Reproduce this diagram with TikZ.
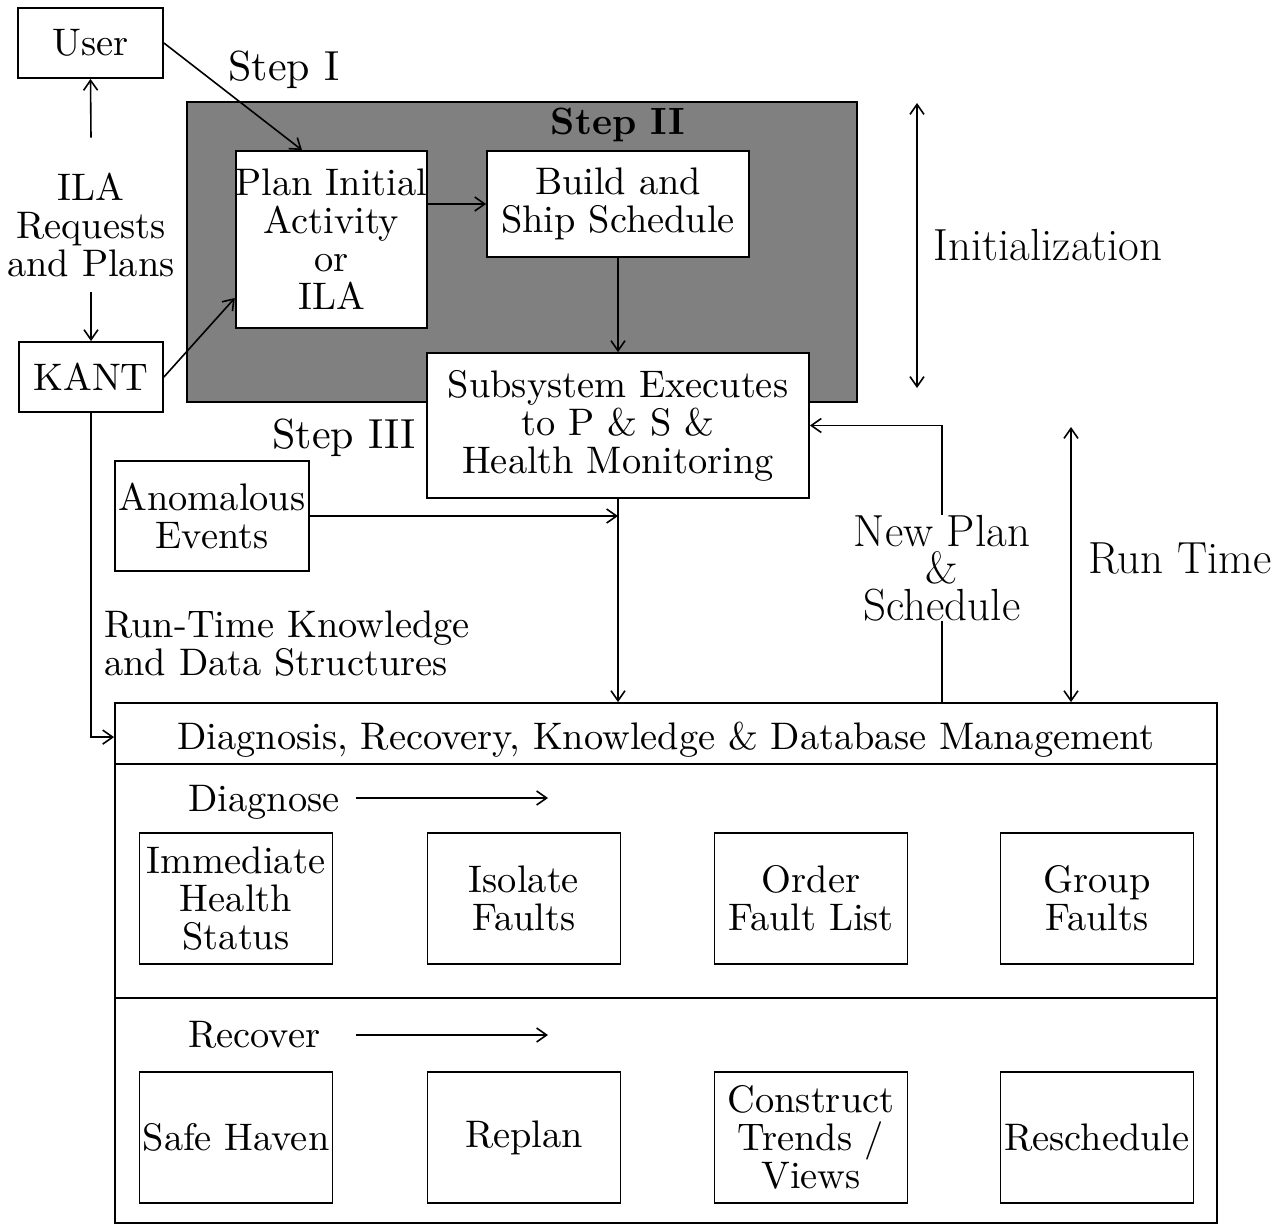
\documentclass[tikz,border=0pt]{standalone}
\usepackage{fontspec}
\newfontfamily\tenrm{lmroman10-regular.otf}[BoldFont=lmroman10-bold.otf]
\usetikzlibrary{arrows.meta}
\begin{document}
\begin{tikzpicture}[x=0.5pt,y=-0.5pt,
  txt/.style={font=\tenrm\fontsize{19.2}{19}\selectfont, align=center, inner sep=0pt},
  stp/.style={font=\tenrm\fontsize{21}{19}\selectfont, inner sep=0pt},
  lbl/.style={font=\fontsize{22.5}{18.5}\selectfont, align=center, inner sep=0pt},
  box/.style={draw, line width=0.9pt, fill=white, txt},
  cell/.style={box, minimum width=96.5pt, minimum height=65.5pt},
  arr/.style={line width=0.8pt, -{Straight Barb[length=5pt,width=7pt]}},
  dbl/.style={line width=0.8pt, {Straight Barb[length=5pt,width=7pt]}-{Straight Barb[length=5pt,width=7pt]}},
  ln/.style={line width=0.8pt}]
\useasboundingbox (0,0) rectangle (1286,1226);

% shaded planning region (Step II)
\fill[black!50] (187,102) rectangle (857,402);
\draw[line width=0.6pt] (187,102) rectangle (857,402);
\node[stp, font=\tenrm\fontsize{19}{19}\selectfont\bfseries] (step2) at (618,125) {Step II};

% left column
\node[box, minimum width=72.5pt, minimum height=35pt] (user) at (90.5,43) {User};
\node[box, minimum width=72pt, minimum height=35pt] (kant) at (91,377) {KANT};
\node[txt] (ila) at (91,225) {ILA\\Requests\\and Plans};

% planning boxes
\node[box, minimum width=95.5pt, minimum height=88.5pt] (plan) at (331.5,239.5) {Plan Initial\\Activity\\or\\ILA};
\node[box, minimum width=131pt, minimum height=53pt] (build) at (618,204) {Build and\\Ship Schedule};
\node[box, minimum width=191pt, minimum height=72.5pt] (subsys) at (618,425.5) {Subsystem Executes\\to P \& S \&\\Health Monitoring};
\node[box, minimum width=97pt, minimum height=55pt] (anom) at (212,516) {Anomalous\\Events};

% free labels
\node[stp, anchor=base west] (step1) at (228,80) {Step I};
\node[stp, anchor=base west] (step3) at (272,448) {Step III};
\node[txt, align=left, anchor=north west] (rtk) at (104,610) {Run-Time Knowledge\\and Data Structures};
\node[lbl, anchor=west] (init) at (933,245) {Initialization};
\node[lbl, anchor=west] (runtime) at (1088,558) {Run Time};
\node[lbl] (newplan) at (942,568) {New Plan\\\&\\Schedule};

% diagnosis / recovery management block
\node[draw, line width=0.9pt, minimum width=551pt, minimum height=260pt, inner sep=0pt] (mgmt) at (666,963) {};
\draw[ln] (115,764) -- (1217,764);
\draw[ln] (115,998) -- (1217,998);
\node[txt] (title) at (666,740) {Diagnosis, Recovery, Knowledge \& Database Management};

\node[txt, anchor=base west] (diag) at (188,811) {Diagnose};
\coordinate (diagA) at (356,798);
\coordinate (diagB) at (548,798);
\draw[arr] (diagA) -- (diagB);
\node[txt, anchor=base west] (recov) at (188,1047) {Recover};
\coordinate (recA) at (356,1035);
\coordinate (recB) at (548,1035);
\draw[arr] (recA) -- (recB);

\node[cell] (ihs) at (236,898.5) {Immediate\\Health\\Status};
\node[cell] (iso) at (524,898.5) {Isolate\\Faults};
\node[cell] (ofl) at (811,898.5) {Order\\Fault List};
\node[cell] (grp) at (1097,898.5) {Group\\Faults};

\node[cell] (safe) at (236,1137.5) {Safe Haven};
\node[cell] (replan) at (524,1137.5) {Replan};
\node[cell] (trend) at (811,1137.5) {Construct\\Trends /\\Views};
\node[cell] (resch) at (1097,1137.5) {Reschedule};

% connectors
\draw[arr] ([yshift=17.5pt]ila.north) -- (user.south);
\draw[arr] ([yshift=-7.5pt]ila.south) -- (kant.north);
\draw[arr] (user.east) -- ([xshift=-14.75pt]plan.north);
\draw[arr] (kant.east) -- ([yshift=-29.25pt]plan.west);
\draw[arr] (plan.east |- build.west) -- (build.west);
\draw[arr] (build.south) -- (subsys.north);
\draw[arr] (subsys.south) -- (subsys.south |- mgmt.north);
\draw[arr] (anom.east) -- (anom.east -| subsys.south);
\draw[arr] (kant.south) |- ([yshift=-17.5pt]mgmt.north west);

\coordinate (npfoot) at (942,703);
\draw[ln] (npfoot) -- (newplan.south);
\draw[arr] (newplan.north) -- (npfoot |- subsys.east) -- (subsys.east);

\coordinate (rtTop) at (1071,427);
\draw[dbl] (rtTop) -- (rtTop |- mgmt.north);

\coordinate (inTop) at (917,103);
\coordinate (inBot) at (917,388);
\draw[dbl] (inTop) -- (inBot);
\end{tikzpicture}
\end{document}
